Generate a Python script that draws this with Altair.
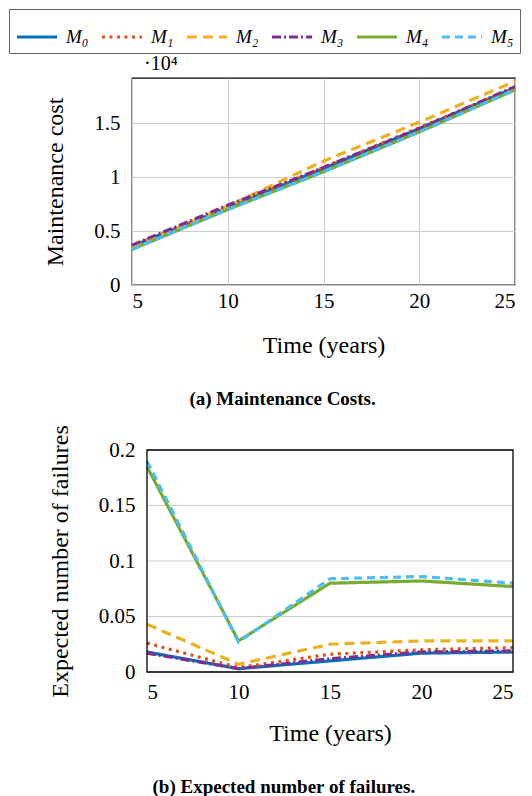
import altair as alt
import pandas as pd

years = [5, 10, 15, 20, 25]
models = ["M₀", "M₁", "M₂", "M₃", "M₄", "M₅"]
colors = ["#0072BD", "#D95319", "#EDB120", "#7E2F8E", "#77AC30", "#4DBEEE"]
dashes = [[1, 0], [3, 4.5], [10, 6], [9, 3, 2, 3], [1, 0], [8, 5]]

cost_ticks = [0, 5000, 10000, 15000]
fail_ticks = [0, 0.05, 0.1, 0.15, 0.2]

cost_m0 = [3600, 7200, 10800, 14500, 18300]
cost_m1 = [3600, 7200, 10900, 14600, 18300]
cost_m2 = [3500, 7300, 11500, 15100, 18900]
cost_m3 = [3700, 7400, 10900, 14500, 18400]
cost_m4 = [3300, 7000, 10500, 14200, 18100]
cost_m5 = [3300, 7000, 10500, 14200, 18100]

fail_m0 = [0.018, 0.003, 0.010, 0.017, 0.018]
fail_m1 = [0.026, 0.004, 0.016, 0.020, 0.022]
fail_m2 = [0.043, 0.007, 0.025, 0.028, 0.028]
fail_m3 = [0.017, 0.003, 0.012, 0.018, 0.019]
fail_m4 = [0.185, 0.028, 0.080, 0.082, 0.077]
fail_m5 = [0.190, 0.027, 0.084, 0.086, 0.080]

cost_series = [cost_m0, cost_m1, cost_m2, cost_m3, cost_m4, cost_m5]
fail_series = [fail_m0, fail_m1, fail_m2, fail_m3, fail_m4, fail_m5]

cost_df = pd.DataFrame(
    [{"year": y, "value": v, "model": m}
     for m, s in zip(models, cost_series) for y, v in zip(years, s)]
)
fail_df = pd.DataFrame(
    [{"year": y, "value": v, "model": m}
     for m, s in zip(models, fail_series) for y, v in zip(years, s)]
)

FONT = "Liberation Serif"
GRID = "#cccccc"

legend = alt.Legend(orient="none", legendX=-123, legendY=-69, direction="horizontal", columns=6)
color = alt.Color("model:N", scale=alt.Scale(domain=models, range=colors), title=None, legend=legend)
dash = alt.StrokeDash("model:N", scale=alt.Scale(domain=models, range=dashes), title=None, legend=legend)

# ---- (a) maintenance costs ----
top_lines = alt.Chart(cost_df).mark_line(strokeWidth=3.2).encode(
    x=alt.X("year:Q", scale=alt.Scale(domain=[5, 25], nice=False, zero=False),
            axis=alt.Axis(values=years, title="Time (years)", labelPadding=5, titlePadding=22)),
    y=alt.Y("value:Q", scale=alt.Scale(domain=[0, 19200], nice=False),
            axis=alt.Axis(values=cost_ticks, labelExpr="datum.value / 10000",
                          title="Maintenance cost")),
    color=color, strokeDash=dash, detail="model:N",
)
note = alt.Chart(pd.DataFrame({"t": ["·10⁴"]})).mark_text(
    font=FONT, fontSize=20, align="left", baseline="alphabetic", color="black"
).encode(text="t:N", x=alt.value(12), y=alt.value(-8))

top = alt.layer(top_lines, note).properties(
    width=383, height=207,
    title=alt.TitleParams("(a) Maintenance Costs.", orient="bottom", fontWeight="bold",
                          fontSize=19, font=FONT, offset=33, anchor="middle", frame="bounds",
                          color="black"),
)

# ---- (b) expected number of failures ----
bx = alt.Scale(domain=[5, 25], nice=False, zero=False, range=[15, 381])
by = alt.Scale(domain=[0, 0.2], nice=False, zero=False)

grid_rules = alt.Chart(pd.DataFrame({"v": fail_ticks})).mark_rule(
    color=GRID, strokeWidth=1
).encode(
    y=alt.Y("v:Q", scale=by),
    x=alt.XDatum(5, type="quantitative", scale=bx),
    x2=alt.X2Datum(25),
)

bottom_lines = alt.Chart(fail_df).mark_line(strokeWidth=3.2).encode(
    x=alt.X("year:Q", scale=bx,
            axis=alt.Axis(values=years, title="Time (years)", labelPadding=9, titlePadding=19)),
    y=alt.Y("value:Q", scale=by,
            axis=alt.Axis(values=fail_ticks, labelExpr="'' + datum.value", grid=False,
                          offset=-15, title="Expected number of failures")),
    color=color, strokeDash=dash, detail="model:N",
)
frame = alt.Chart(pd.DataFrame({"f": [0]})).mark_rect(
    fillOpacity=0, stroke="black", strokeWidth=1.3
).encode(
    x=alt.XDatum(5, type="quantitative", scale=bx),
    x2=alt.X2Datum(25),
    y=alt.YDatum(0, type="quantitative", scale=by),
    y2=alt.Y2Datum(0.2),
)

bottom = alt.layer(grid_rules, bottom_lines, frame).properties(
    width=381, height=222,
    view=alt.ViewBackground(stroke="transparent"),
    title=alt.TitleParams("(b) Expected number of failures.", orient="bottom", fontWeight="bold",
                          fontSize=19, font=FONT, offset=33, anchor="middle", frame="bounds",
                          color="black"),
)

chart = alt.concat(top, bottom, columns=1, spacing=14).properties(
    padding={"left": 0, "top": 0, "right": 0, "bottom": 0}
).configure(font=FONT).configure_view(
    stroke="black", strokeWidth=1.3
).configure_axis(
    labelFont=FONT, titleFont=FONT, labelFontSize=21, titleFontSize=24,
    labelColor="black", titleColor="black", titleFontWeight="normal",
    gridColor=GRID, gridWidth=1, domain=False, ticks=False,
).configure_axisY(labelPadding=12, titlePadding=26).configure_legend(
    symbolType="stroke", symbolSize=1600, symbolStrokeWidth=3.2, labelFont=FONT,
    labelFontSize=19, labelFontStyle="italic", labelColor="black",
    strokeColor="#666666", padding=6, columnPadding=6, labelOffset=7,
)

chart.save("out.html", embed_options={"renderer": "svg", "actions": False})
